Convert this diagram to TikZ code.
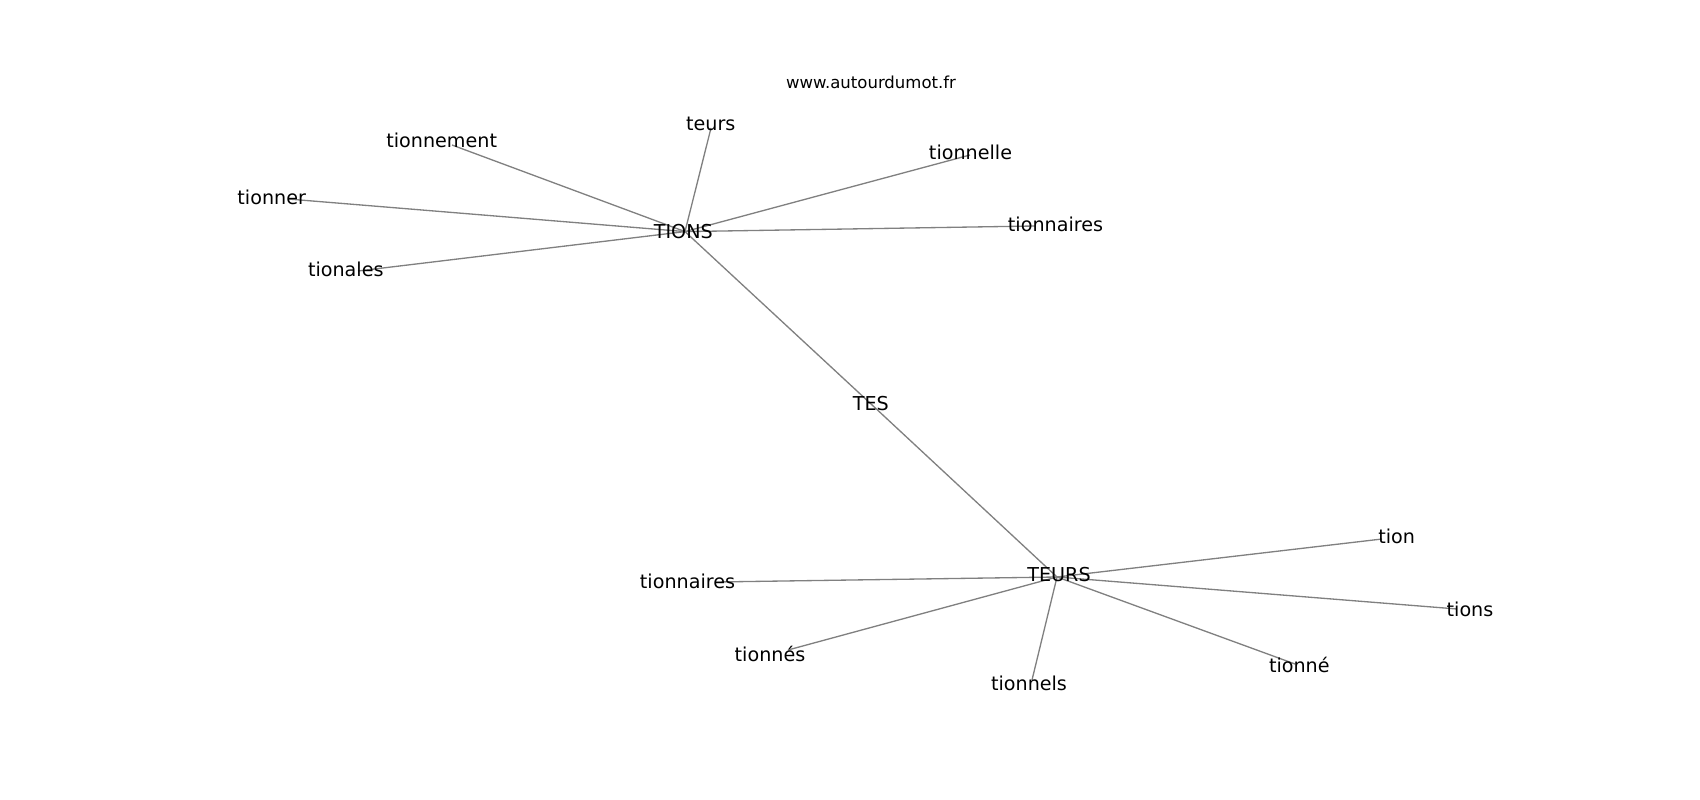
\documentclass[tikz,border=0pt]{standalone}
\usepackage{fontspec}
\setmainfont{DejaVu Sans}
\usetikzlibrary{backgrounds}

\begin{document}
\begin{tikzpicture}[x=0.02cm,y=-0.02cm,
  word/.style={inner sep=0pt,font=\fontsize{10.9}{13}\selectfont},
  site/.style={inner sep=0pt,font=\fontsize{9.4}{11}\selectfont},
  link/.style={draw=gray,line width=0.75pt}]
\useasboundingbox (0,0) rectangle (1700,800);

% define the words
  \node[site] (site) at (871,82) {www.autourdumot.fr};
  \node[word] (TIONS) at (683.3,231.5) {TIONS};
  \node[word] (TES) at (870.8,403.8) {TES};
  \node[word] (TEURS) at (1059,574.5) {TEURS};
  \node[word] (teurs) at (710.8,123.7) {teurs};
  \node[word] (tionnement) at (441.7,140) {tionnement};
  \node[word] (tionner) at (271.7,197) {tionner};
  \node[word] (tionales) at (345.8,269) {tionales};
  \node[word] (tionnelle) at (970.5,152) {tionnelle};
  \node[word] (tionnairesA) at (1055.5,224) {tionnaires};
  \node[word] (tionnairesB) at (687.5,581) {tionnaires};
  \node[word] (tionnes) at (770,654) {tionnés};
  \node[word] (tionnels) at (1029,683) {tionnels};
  \node[word] (tionne) at (1299.3,665) {tionné};
  \node[word] (tions) at (1470,609) {tions};
  \node[word] (tion) at (1396.7,536.7) {tion};

% define the ends of the links
  \coordinate (TIONS-p) at (685,231.6);
  \coordinate (TEURS-p) at (1057,577);
  \coordinate (teurs-p) at (711,128);
  \coordinate (tionnement-p) at (452,145);
  \coordinate (tionner-p) at (288,199);
  \coordinate (tionales-p) at (358,271);
  \coordinate (tionnelle-p) at (970,155);
  \coordinate (tionnairesA-p) at (1035,226);
  \coordinate (tionnairesB-p) at (715,582);
  \coordinate (tionnes-p) at (788,650);
  \coordinate (tionnels-p) at (1032,680);
  \coordinate (tionne-p) at (1295,664);
  \coordinate (tions-p) at (1457,609);
  \coordinate (tion-p) at (1382,539);

% define the links
\begin{scope}[on background layer]
  \path[link] (TIONS-p) edge (TES.center)
                        edge (teurs-p)
                        edge (tionnement-p)
                        edge (tionner-p)
                        edge (tionales-p)
                        edge (tionnelle-p)
                        edge (tionnairesA-p);
  \path[link] (TEURS-p) edge (TES.center)
                        edge (tionnairesB-p)
                        edge (tionnes-p)
                        edge (tionnels-p)
                        edge (tionne-p)
                        edge (tions-p)
                        edge (tion-p);
\end{scope}

\end{tikzpicture}
\end{document}
